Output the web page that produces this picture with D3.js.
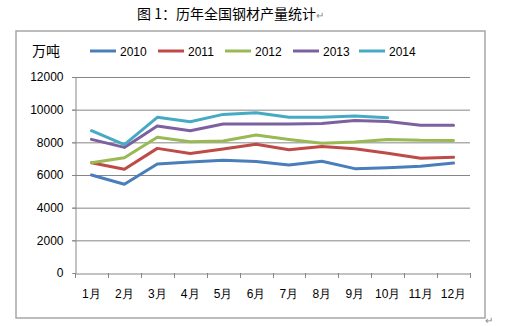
<!DOCTYPE html>
<html><head><meta charset="utf-8">
<script src="https://cdn.jsdelivr.net/npm/d3@7"></script>
<style>body{margin:0;background:#fff}svg{display:block}</style>
</head><body>
<svg id="c" width="506" height="326"></svg>
<script>
const months = ["1月","2月","3月","4月","5月","6月","7月","8月","9月","10月","11月","12月"];
const seriesNames = ["2010","2011","2012","2013","2014"];
const colors = ["#4a7ebb","#be4b48","#98b954","#7d60a0","#46aac5"];
const v2010 = [6000,5430,6670,6800,6900,6820,6610,6840,6390,6450,6530,6730];
const v2011 = [6750,6350,7630,7310,7590,7880,7550,7740,7610,7330,7020,7080];
const v2012 = [6750,7060,8310,8040,8080,8450,8180,7940,8020,8180,8120,8110];
const v2013 = [8180,7690,9000,8710,9120,9120,9120,9160,9330,9270,9050,9050];
const v2014 = [8710,7860,9530,9260,9710,9810,9530,9530,9610,9510,null,null];
const yTicks = [0,2000,4000,6000,8000,10000,12000];
const seriesValues = [v2010,v2011,v2012,v2013,v2014];

const svg = d3.select("#c");
const numFont = "'Liberation Sans', Arial, sans-serif";
const cjkFont = "'Noto Sans CJK SC', sans-serif";

// title
const t = svg.append("text").attr("x",137).attr("y",19).attr("font-family",cjkFont)
  .attr("font-size",14).attr("fill","#000");
t.append("tspan").text("图 1：历年全国钢材产量统计");
t.append("tspan").attr("font-size",10).attr("fill","#888").text("↵");

// frame
svg.append("rect").attr("x",16).attr("y",31).attr("width",469).attr("height",287)
  .attr("fill","#fff").attr("stroke","#a6a6a6").attr("stroke-width",1.5);
svg.append("text").attr("x",485).attr("y",324).attr("font-size",10).attr("fill","#888")
  .attr("font-family",cjkFont).text("↵");

const L=75,R=470,T=77,B=273;
const x = d3.scaleBand().domain(months).range([L,R]);
const y = d3.scaleLinear().domain([0,12000]).range([B,T]);

// gridlines
svg.append("g").selectAll("line").data(yTicks.filter(d=>d>0)).join("line")
  .attr("x1",L-3).attr("x2",R).attr("y1",d=>y(d)+0.5).attr("y2",d=>y(d)+0.5)
  .attr("stroke","#868686").attr("stroke-width",1);

// y axis
const ya = svg.append("g").attr("transform",`translate(${L+0.5},0)`)
  .call(d3.axisLeft(y).tickValues(yTicks).tickSize(3).tickPadding(9).tickFormat(d3.format("d")));
ya.select(".domain").attr("stroke","#868686");
ya.selectAll(".tick line").attr("stroke","#868686");
ya.selectAll("text").attr("font-family",numFont).attr("font-size",12).attr("fill","#000");

// x axis
const xa = svg.append("g").attr("transform",`translate(0,${B+0.5})`)
  .call(d3.axisBottom(x).tickSize(0).tickPadding(16));
xa.select(".domain").attr("stroke","#868686");
xa.selectAll("text").attr("font-family",numFont).attr("font-size",12).attr("fill","#000");
const bounds = months.map(m=>x(m)).concat([R]);
svg.append("g").selectAll("line").data(bounds).join("line")
  .attr("x1",d=>Math.round(d)+0.5).attr("x2",d=>Math.round(d)+0.5)
  .attr("y1",B).attr("y2",B+5).attr("stroke","#868686");

// lines
const line = d3.line().defined(d=>d.v!=null)
  .x(d=>x(d.m)+x.bandwidth()/2).y(d=>y(d.v));
seriesValues.forEach((vals,i)=>{
  svg.append("path").datum(vals.map((v,j)=>({m:months[j],v})))
    .attr("d",line).attr("fill","none").attr("stroke",colors[i])
    .attr("stroke-width",3).attr("stroke-linejoin","round").attr("stroke-linecap","round");
});

// legend
svg.append("text").attr("x",32).attr("y",56).attr("font-family",cjkFont)
  .attr("font-size",14).attr("fill","#000").text("万吨");
const lx = [90,158,225,293,359];
seriesNames.forEach((n,i)=>{
  svg.append("line").attr("x1",lx[i]).attr("x2",lx[i]+26).attr("y1",51).attr("y2",51)
    .attr("stroke",colors[i]).attr("stroke-width",3);
  svg.append("text").attr("x",lx[i]+30).attr("y",55.5).attr("font-family",numFont)
    .attr("font-size",12).attr("fill","#000").text(n);
});
</script>
</body></html>
